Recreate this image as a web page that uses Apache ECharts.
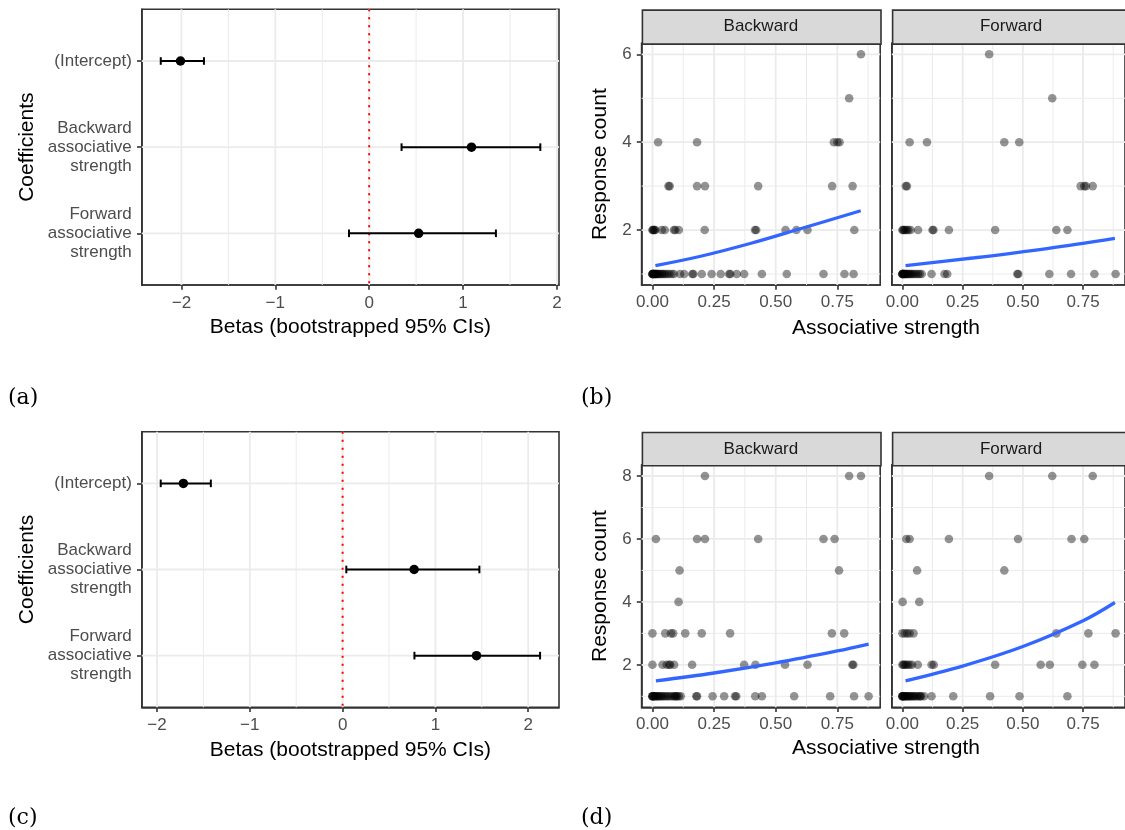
<!DOCTYPE html>
<html><head><meta charset="utf-8">
<script src="https://cdn.jsdelivr.net/npm/echarts@6/dist/echarts.min.js"></script>
<style>html,body{margin:0;padding:0;background:#fff}#chart{width:1125px;height:830px}</style>
</head><body><div id="chart"></div>
<script>
// ---------------- DATA ----------------
const coefNames = ['(Intercept)', 'Backward\nassociative\nstrength', 'Forward\nassociative\nstrength'];
const coefRows = [1, 2, 3];
// panel (a)
const estA  = [-2.01, 1.09, 0.527];
const lowA  = [-2.22, 0.345, -0.215];
const highA = [-1.76, 1.823, 1.35];
// panel (c)
const estC  = [-1.716, 0.771, 1.443];
const lowC  = [-1.96, 0.04, 0.774];
const highC = [-1.42, 1.474, 2.128];

const betaTicks = [-2, -1, 0, 1, 2];
const betaMinor = [-1.5, -0.5, 0.5, 1.5];
const strengthTicks = [0, 0.25, 0.5, 0.75];
const strengthMinor = [0.125, 0.375, 0.625, 0.875];
const countTicksB = [2, 4, 6];
const countMinorB = [1, 3, 5];
const countTicksD = [2, 4, 6, 8];
const countMinorD = [1, 3, 5, 7];
const facetNames = ['Backward', 'Forward'];

// panel (b) points [strength, count]
const bBackward = [
 [0,1],[0,1],[0,1],[0.002,1],[0.004,1],[0.006,1],[0.008,1],[0.01,1],[0.012,1],[0.015,1],[0.018,1],[0.021,1],[0.025,1],[0.03,1],[0.035,1],[0.04,1],[0.046,1],[0.052,1],[0.06,1],[0.068,1],[0.078,1],[0.087,1],
 [0.112,1],[0.129,1],[0.162,1],[0.166,1],[0.2,1],[0.24,1],[0.277,1],[0.311,1],[0.316,1],[0.342,1],[0.372,1],[0.444,1],[0.545,1],[0.694,1],[0.779,1],[0.816,1],
 [0,2],[0.002,2],[0.005,2],[0.008,2],[0.012,2],[0.038,2],[0.05,2],[0.087,2],[0.093,2],[0.107,2],[0.212,2],[0.416,2],[0.421,2],[0.54,2],[0.584,2],[0.629,2],[0.819,2],
 [0.065,3],[0.07,3],[0.181,3],[0.213,3],[0.429,3],[0.729,3],[0.812,3],
 [0.023,4],[0.181,4],[0.736,4],[0.75,4],[0.759,4],
 [0.798,5],[0.846,6]
];
const bForward = [
 [0,1],[0,1],[0,1],[0.002,1],[0.004,1],[0.006,1],[0.008,1],[0.01,1],[0.013,1],[0.016,1],[0.02,1],[0.024,1],[0.028,1],[0.033,1],[0.038,1],[0.043,1],[0.05,1],[0.057,1],[0.065,1],[0.072,1],[0.08,1],
 [0.121,1],[0.175,1],[0.186,1],[0.477,1],[0.481,1],[0.61,1],[0.7,1],[0.797,1],[0.885,1],
 [0,2],[0.003,2],[0.007,2],[0.012,2],[0.018,2],[0.025,2],[0.034,2],[0.065,2],[0.125,2],[0.129,2],[0.193,2],[0.385,2],[0.639,2],[0.685,2],
 [0.014,3],[0.019,3],[0.74,3],[0.755,3],[0.762,3],[0.79,3],
 [0.03,4],[0.102,4],[0.423,4],[0.485,4],
 [0.622,5],[0.36,6]
];
// panel (d) points
const dBackward = [
 [0,1],[0,1],[0,1],[0.003,1],[0.006,1],[0.01,1],[0.014,1],[0.018,1],[0.022,1],[0.027,1],[0.032,1],[0.037,1],[0.043,1],[0.05,1],[0.057,1],[0.064,1],[0.072,1],[0.08,1],[0.088,1],[0.092,1],[0.096,1],[0.1,1],[0.107,1],[0.115,1],
 [0.178,1],[0.181,1],[0.244,1],[0.291,1],[0.335,1],[0.34,1],[0.417,1],[0.444,1],[0.575,1],[0.721,1],[0.818,1],[0.877,1],
 [0,2],[0.041,2],[0.058,2],[0.068,2],[0.072,2],[0.088,2],[0.161,2],[0.372,2],[0.418,2],[0.538,2],[0.629,2],[0.811,2],[0.815,2],
 [0,3],[0.052,3],[0.075,3],[0.084,3],[0.133,3],[0.2,3],[0.315,3],[0.728,3],[0.778,3],
 [0.106,4],[0.11,5],[0.757,5],
 [0.014,6],[0.181,6],[0.213,6],[0.429,6],[0.694,6],[0.739,6],
 [0.213,8],[0.798,8],[0.846,8]
];
const dForward = [
 [0,1],[0,1],[0,1],[0.002,1],[0.005,1],[0.008,1],[0.011,1],[0.014,1],[0.018,1],[0.022,1],[0.026,1],[0.03,1],[0.035,1],[0.04,1],[0.045,1],[0.05,1],[0.056,1],[0.062,1],[0.07,1],[0.074,1],[0.078,1],[0.09,1],
 [0.121,1],[0.211,1],[0.364,1],[0.486,1],[0.685,1],
 [0,2],[0.004,2],[0.009,2],[0.015,2],[0.022,2],[0.03,2],[0.04,2],[0.064,2],[0.121,2],[0.13,2],[0.385,2],[0.574,2],[0.612,2],[0.747,2],[0.797,2],
 [0,3],[0.01,3],[0.02,3],[0.03,3],[0.046,3],[0.639,3],[0.772,3],[0.885,3],
 [0.001,4],[0.07,4],[0.061,5],[0.423,5],
 [0.016,6],[0.03,6],[0.193,6],[0.48,6],[0.702,6],[0.755,6],
 [0.36,8],[0.622,8],[0.79,8]
];
// fitted curves
const bBackwardFit = [[0.012,1.19],[0.2,1.41],[0.4,1.70],[0.6,2.03],[0.845,2.44]];
const bForwardFit  = [[0.013,1.19],[0.3,1.37],[0.6,1.58],[0.882,1.81]];
const dBackwardFit = [[0.014,1.49],[0.25,1.74],[0.5,2.06],[0.75,2.44],[0.877,2.66]];
const dForwardFit  = [[0.013,1.49],[0.25,1.96],[0.5,2.58],[0.75,3.40],[0.882,3.98]];

// ---------------- LAYOUT / STYLE ----------------
const FONT = 'Liberation Sans';
const TICK_FS = 17;
const TITLE_FS = 21;
const GRID_MAJOR = '#EBEBEB';
const BORDER = '#333333';
const TICK_LABEL = '#4D4D4D';
const grids = [
  {left: 141.8, top: 9.3,   width: 417.2, height: 275.7},  // a
  {left: 141.8, top: 431.7, width: 417.2, height: 275.6},  // c
  {left: 641.6, top: 43.3,  width: 238.6, height: 241.7},  // b backward
  {left: 891.8, top: 43.3,  width: 238.6, height: 241.7},  // b forward
  {left: 641.6, top: 465,   width: 238.6, height: 242.3},  // d backward
  {left: 891.8, top: 465,   width: 238.6, height: 242.3}   // d forward
];
const minus = v => (v < 0 ? '\u2212' + Math.abs(v) : String(v));

function gridLineSeries(idx, values, dir, width, ref, style) {
  return {
    type: 'custom', xAxisIndex: idx, yAxisIndex: idx, silent: true, z: 1,
    animation: false,
    data: values.map(v => dir === 'v' ? [v, ref] : [ref, v]),
    encode: {x: 0, y: 1},
    renderItem: (params, api) => {
      const cs = params.coordSys;
      const p = api.coord([api.value(0), api.value(1)]);
      const shape = dir === 'v'
        ? {x1: p[0], y1: cs.y, x2: p[0], y2: cs.y + cs.height}
        : {x1: cs.x, y1: p[1], x2: cs.x + cs.width, y2: p[1]};
      return {type: 'line', shape, style: Object.assign({stroke: GRID_MAJOR, lineWidth: width}, style || {})};
    }
  };
}

function errorBarSeries(idx, low, high) {
  return {
    type: 'custom', xAxisIndex: idx, yAxisIndex: idx, z: 3, silent: true, animation: false,
    data: low.map((l, i) => [l, high[i], coefRows[i]]),
    encode: {x: [0, 1], y: 2},
    renderItem: (params, api) => {
      const y = api.value(2);
      const p0 = api.coord([api.value(0), y]);
      const p1 = api.coord([api.value(1), y]);
      const h = 3.8;
      const st = {stroke: '#000', lineWidth: 2};
      return {type: 'group', children: [
        {type: 'line', shape: {x1: p0[0], y1: p0[1], x2: p1[0], y2: p1[1]}, style: st},
        {type: 'line', shape: {x1: p0[0], y1: p0[1] - h, x2: p0[0], y2: p0[1] + h}, style: st},
        {type: 'line', shape: {x1: p1[0], y1: p1[1] - h, x2: p1[0], y2: p1[1] + h}, style: st}
      ]};
    }
  };
}

const tickStyle = {show: true, length: 4.8, lineStyle: {color: BORDER, width: 1.6}};
const lineStyleAxis = {show: true, onZero: false, lineStyle: {color: BORDER, width: 1.6}};
function betaX(idx, min, max) {
  return {
    type: 'value', gridIndex: idx, min, max,
    axisLine: lineStyleAxis, splitLine: {show: false},
    axisTick: Object.assign({customValues: betaTicks}, tickStyle),
    axisLabel: {customValues: betaTicks, formatter: minus, color: TICK_LABEL, fontSize: TICK_FS, fontFamily: FONT, margin: 10},
    name: 'Betas (bootstrapped 95% CIs)', nameLocation: 'middle', nameGap: 32,
    nameTextStyle: {color: '#000', fontSize: TITLE_FS, fontFamily: FONT}
  };
}
function coefY(idx) {
  return {
    type: 'value', gridIndex: idx, min: 0.4, max: 3.6, inverse: true,
    axisLine: lineStyleAxis, splitLine: {show: false},
    axisTick: Object.assign({customValues: coefRows}, tickStyle),
    axisLabel: {customValues: coefRows, formatter: v => coefNames[Math.round(v) - 1],
      color: TICK_LABEL, fontSize: TICK_FS, fontFamily: FONT, margin: 10, lineHeight: 19, align: 'right'},
    name: 'Coefficients', nameLocation: 'middle', nameGap: 104, nameRotate: 90,
    nameTextStyle: {color: '#000', fontSize: TITLE_FS, fontFamily: FONT}
  };
}
function strengthX(idx) {
  return {
    type: 'value', gridIndex: idx, min: -0.044, max: 0.924,
    axisLine: lineStyleAxis, splitLine: {show: false},
    axisTick: Object.assign({customValues: strengthTicks}, tickStyle),
    axisLabel: {customValues: strengthTicks, formatter: v => v.toFixed(2), color: TICK_LABEL, fontSize: TICK_FS, fontFamily: FONT, margin: 9}
  };
}
function countY(idx, min, max, ticks, showLabels) {
  const ax = {
    type: 'value', gridIndex: idx, min, max,
    axisLine: lineStyleAxis, splitLine: {show: false},
    axisTick: Object.assign({customValues: ticks}, tickStyle, {show: showLabels}),
    axisLabel: {show: showLabels, customValues: ticks, color: TICK_LABEL, fontSize: TICK_FS, fontFamily: FONT, margin: 10}
  };
  if (showLabels) {
    Object.assign(ax, {name: 'Response count', nameLocation: 'middle', nameGap: 31, nameRotate: 90,
      nameTextStyle: {color: '#000', fontSize: TITLE_FS, fontFamily: FONT}});
  }
  return ax;
}

const series = [];
// forest panels
[[0, estA, lowA, highA], [1, estC, lowC, highC]].forEach(([idx, est, lo, hi]) => {
  series.push(gridLineSeries(idx, betaMinor, 'v', 1, 2));
  series.push(gridLineSeries(idx, betaTicks, 'v', 1.8, 2));
  series.push(gridLineSeries(idx, coefRows, 'h', 1.8, 0));
  series.push(gridLineSeries(idx, [0], 'v', 2, 2, {stroke: '#FF0000', lineDash: [2, 6]}));
  series.push(errorBarSeries(idx, lo, hi));
  series.push({type: 'scatter', xAxisIndex: idx, yAxisIndex: idx, z: 4, silent: true, animation: false,
    symbolSize: 9.5, itemStyle: {color: '#000', opacity: 1},
    data: est.map((e, i) => [e, coefRows[i]])});
});
// scatter panels
const scatterPanels = [
  [2, bBackward, bBackwardFit, countMinorB, countTicksB],
  [3, bForward,  bForwardFit,  countMinorB, countTicksB],
  [4, dBackward, dBackwardFit, countMinorD, countTicksD],
  [5, dForward,  dForwardFit,  countMinorD, countTicksD]
];
scatterPanels.forEach(([idx, pts, fit, yMinor, yMajor]) => {
  series.push(gridLineSeries(idx, strengthMinor, 'v', 1, 2));
  series.push(gridLineSeries(idx, yMinor, 'h', 1, 0.4));
  series.push(gridLineSeries(idx, strengthTicks, 'v', 1.8, 2));
  series.push(gridLineSeries(idx, yMajor, 'h', 1.8, 0.4));
  series.push({type: 'scatter', xAxisIndex: idx, yAxisIndex: idx, z: 3, silent: true, animation: false,
    symbolSize: 8.6, itemStyle: {color: 'rgba(0,0,0,0.42)', opacity: 1}, data: pts});
  series.push({type: 'line', xAxisIndex: idx, yAxisIndex: idx, z: 4, silent: true, animation: false,
    smooth: 0.35, showSymbol: false, lineStyle: {color: '#3366FF', width: 3.3}, data: fit});
});

// strips, captions, shared x title
const graphics = [];
const stripTops = [[2, 9.3], [3, 9.3], [4, 431.7], [5, 431.7]];
stripTops.forEach(([idx, top], k) => {
  const g = grids[idx];
  graphics.push({type: 'rect', left: g.left, top: top, z: 10,
    shape: {width: g.width, height: g.top - top},
    style: {fill: '#D9D9D9', stroke: BORDER, lineWidth: 1.6}});
  graphics.push({type: 'text', z: 11, x: g.left + g.width / 2, y: top + (g.top - top) / 2 + 0.5,
    style: {text: facetNames[k % 2], font: TICK_FS + 'px ' + FONT, fill: '#1A1A1A', align: 'center', verticalAlign: 'middle'}});
});
[[886, 328], [886, 748]].forEach(([x, y]) => {
  graphics.push({type: 'text', z: 11, x, y,
    style: {text: 'Associative strength', font: TITLE_FS + 'px ' + FONT, fill: '#000', align: 'center', verticalAlign: 'middle'}});
});
[['(a)', 8, 398], ['(b)', 581, 398], ['(c)', 8, 818], ['(d)', 581, 818]].forEach(([t, x, y]) => {
  graphics.push({type: 'text', z: 11, x, y,
    style: {text: t, font: '22px "DejaVu Serif"', fill: '#000', align: 'left', verticalAlign: 'middle'}});
});

const chart = echarts.init(document.getElementById('chart'), null, {renderer: 'canvas'});
chart.setOption({
  animation: false,
  backgroundColor: '#fff',
  textStyle: {fontFamily: FONT},
  grid: grids.map(g => Object.assign({show: true, borderColor: BORDER, borderWidth: 1.6, backgroundColor: 'transparent'}, g)),
  xAxis: [betaX(0, -2.422, 2.022), betaX(1, -2.164, 2.332), strengthX(2), strengthX(3), strengthX(4), strengthX(5)],
  yAxis: [coefY(0), coefY(1),
    countY(2, 0.75, 6.25, countTicksB, true), countY(3, 0.75, 6.25, countTicksB, false),
    countY(4, 0.65, 8.35, countTicksD, true), countY(5, 0.65, 8.35, countTicksD, false)],
  series,
  graphic: graphics
});
</script></body></html>
